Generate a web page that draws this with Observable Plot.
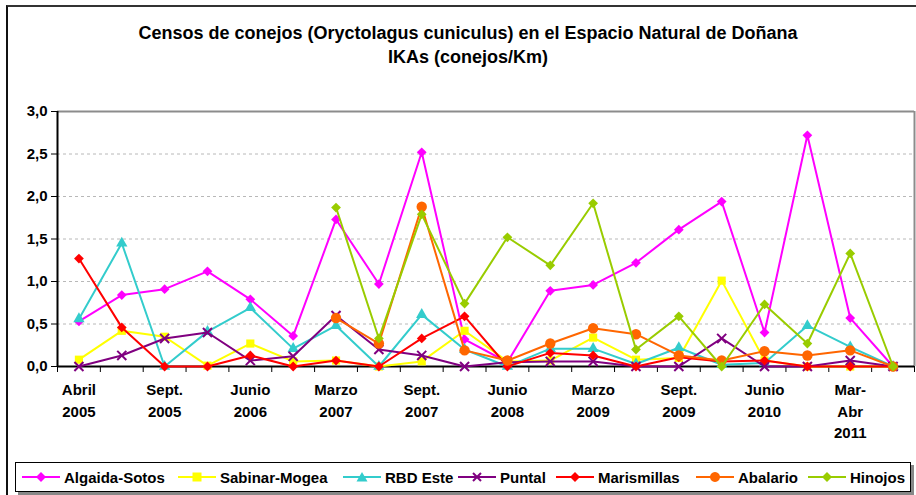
<!DOCTYPE html>
<html>
<head>
<meta charset="utf-8">
<script src="https://cdn.jsdelivr.net/npm/d3@7"></script>
<script src="https://cdn.jsdelivr.net/npm/@observablehq/plot@0.6"></script>
<style>
  body { margin: 0; background: #fff; font-family: "Liberation Sans", Arial, sans-serif; }
  #wrap { position: relative; width: 916px; height: 495px; overflow: hidden; background: #fff; }
  #frame { position: absolute; left: 6px; top: 5px; width: 1200px; height: 1200px; border-left: 2px solid #111; border-top: 2px solid #333; }
  #title { position: absolute; left: 10px; width: 916px; top: 21px; text-align: center; font-weight: bold; font-size: 18px; line-height: 24px; color: #000; }
  #chart { position: absolute; left: 0; top: 95px; }
  #legend { position: absolute; left: 15px; top: 462px; width: 894px; height: 28px; border: 1px solid #000; box-shadow: 3px 3px 0 #888; background: #fff; }
  .item { position: absolute; top: 0; height: 28px; display: flex; align-items: center; font-weight: bold; font-size: 15px; color: #000; white-space: nowrap; }
  .item svg { margin-right: 4px; }
</style>
</head>
<body>
<div id="wrap">
  <div id="frame"></div>
  <div id="title">Censos de conejos (Oryctolagus cuniculus) en el Espacio Natural de Doñana<br>IKAs (conejos/Km)</div>
  <div id="chart"></div>
  <div id="legend"></div>
</div>
<script>
// ---- Data ----
const seriesNames = ["Algaida-Sotos", "Sabinar-Mogea", "RBD Este", "Puntal", "Marismillas", "Abalario", "Hinojos"];
const tickPositions = [0, 2, 4, 6, 8, 10, 12, 14, 16, 18];
const tickLabels = ["Abril\n2005", "Sept.\n2005", "Junio\n2006", "Marzo\n2007", "Sept.\n2007", "Junio\n2008", "Marzo\n2009", "Sept.\n2009", "Junio\n2010", "Mar-\nAbr\n2011"];
const yTicks = [0, 0.5, 1, 1.5, 2, 2.5, 3];

const algaidaSotos = [0.53, 0.84, 0.91, 1.12, 0.79, 0.36, 1.73, 0.97, 2.52, 0.32, 0.05, 0.89, 0.96, 1.22, 1.61, 1.94, 0.40, 2.72, 0.57, 0.0];
const sabinarMogea = [0.08, 0.42, 0.35, 0.01, 0.27, 0.06, 0.07, 0.0, 0.06, 0.42, 0.06, 0.07, 0.34, 0.08, 0.10, 1.01, 0.07, 0.0, 0.0, 0.0];
const rbdEste      = [0.56, 1.45, 0.0, 0.41, 0.69, 0.21, 0.48, 0.0, 0.61, 0.20, 0.0, 0.21, 0.21, 0.03, 0.22, 0.02, 0.04, 0.48, 0.23, 0.0];
const puntal       = [0.0, 0.13, 0.33, 0.40, 0.07, 0.12, 0.60, 0.20, 0.13, 0.0, 0.05, 0.06, 0.06, 0.0, 0.0, 0.33, 0.0, 0.0, 0.07, 0.0];
const marismillas  = [1.27, 0.46, 0.0, 0.0, 0.13, 0.0, 0.07, 0.0, 0.33, 0.59, 0.0, 0.16, 0.13, 0.0, 0.11, 0.06, 0.07, 0.0, 0.0, 0.0];
const abalario     = [null, null, null, null, null, null, 0.57, 0.27, 1.88, 0.19, 0.07, 0.27, 0.45, 0.38, 0.13, 0.07, 0.18, 0.13, 0.19, 0.0];
const hinojos      = [null, null, null, null, null, null, 1.87, 0.33, 1.79, 0.74, 1.52, 1.19, 1.92, 0.20, 0.59, 0.0, 0.73, 0.27, 1.33, 0.0];

const seriesValues = [algaidaSotos, sabinarMogea, rbdEste, puntal, marismillas, abalario, hinojos];

// ---- Styles ----
const colors = ["#FF00FF", "#FFFF00", "#33CCCC", "#800080", "#FF0000", "#FF6600", "#99CC00"];
const symbols = ["diamond2", "square", "triangle", "times", "diamond2", "circle", "diamond2"];
const radii = [4.4, 4.6, 4.2, 4.2, 4.4, 5.2, 4.4];

const rows = seriesNames.flatMap((name, s) =>
  seriesValues[s].map((v, i) => ({ name, i, v }))
);

const boundaries = d3.range(-0.5, 20, 1);

const marks = [
  Plot.gridY([0.5, 1, 1.5, 2, 2.5], { stroke: "#b8b8b8", strokeOpacity: 1, strokeDasharray: "3,3" }),
  Plot.ruleY([3], { stroke: "#8c8c8c", strokeWidth: 2 }),
  Plot.ruleX([19.5], { stroke: "#8c8c8c", strokeWidth: 2 }),
  Plot.axisY({ ticks: yTicks, label: null, tickFormat: d => d.toFixed(1).replace(".", ","), tickSize: 6, tickPadding: 4, fontWeight: "bold", fontSize: 15 }),
  Plot.axisX({ ticks: boundaries, label: null, tickFormat: () => "", tickSize: 6 }),
  Plot.axisX({ ticks: tickPositions, label: null, tickFormat: d => tickLabels[tickPositions.indexOf(d)], tickSize: 0, tickPadding: 13, lineHeight: 1.45, fontWeight: "bold", fontSize: 15 }),
  Plot.ruleX([-0.5], { stroke: "#000", strokeWidth: 2 }),
  Plot.ruleY([0], { stroke: "#000", strokeWidth: 2 })
];

seriesNames.forEach((name, s) => {
  const d = rows.filter(r => r.name === name);
  marks.push(Plot.line(d, { x: "i", y: "v", stroke: colors[s], strokeWidth: 2 }));
  if (symbols[s] === "times") {
    marks.push(Plot.dot(d, { x: "i", y: "v", symbol: "times", stroke: colors[s], strokeWidth: 2, r: radii[s] }));
  } else {
    marks.push(Plot.dot(d, { x: "i", y: "v", symbol: symbols[s], fill: colors[s], stroke: "none", r: radii[s] }));
  }
});

const chart = Plot.plot({
  width: 916,
  height: 350,
  marginLeft: 57,
  marginRight: 2,
  marginTop: 16,
  marginBottom: 79,
  style: { fontFamily: "'Liberation Sans', Arial, sans-serif", fontSize: "15px", fontWeight: "bold", color: "#000", background: "transparent", overflow: "visible" },
  x: { domain: [-0.5, 19.5], axis: null, label: null },
  y: { domain: [0, 3], axis: null, label: null },
  marks
});
document.getElementById("chart").appendChild(chart);

// ---- Legend ----
const legendX = [6, 162, 327, 442, 540, 680, 792];
const legend = document.getElementById("legend");
const symPath = {
  diamond2: "M19,0 L24,5 L19,10 L14,5 Z",
  square: "M14.5,0.5 L23.5,0.5 L23.5,9.5 L14.5,9.5 Z",
  triangle: "M19,0 L24.5,9.5 L13.5,9.5 Z",
  circle: "M19,0 A5,5 0 1,1 18.99,0 Z",
  times: "M15,1 L23,9 M23,1 L15,9"
};
seriesNames.forEach((name, s) => {
  const el = document.createElement("div");
  el.className = "item";
  el.style.left = legendX[s] + "px";
  const isTimes = symbols[s] === "times";
  el.innerHTML = `<svg width="38" height="10" viewBox="0 0 38 10"><line x1="0" y1="5" x2="38" y2="5" stroke="${colors[s]}" stroke-width="2"/><path d="${symPath[symbols[s]]}" ${isTimes ? `fill="none" stroke="${colors[s]}" stroke-width="2"` : `fill="${colors[s]}"`}/></svg><span>${name}</span>`;
  legend.appendChild(el);
});
</script>
</body>
</html>
